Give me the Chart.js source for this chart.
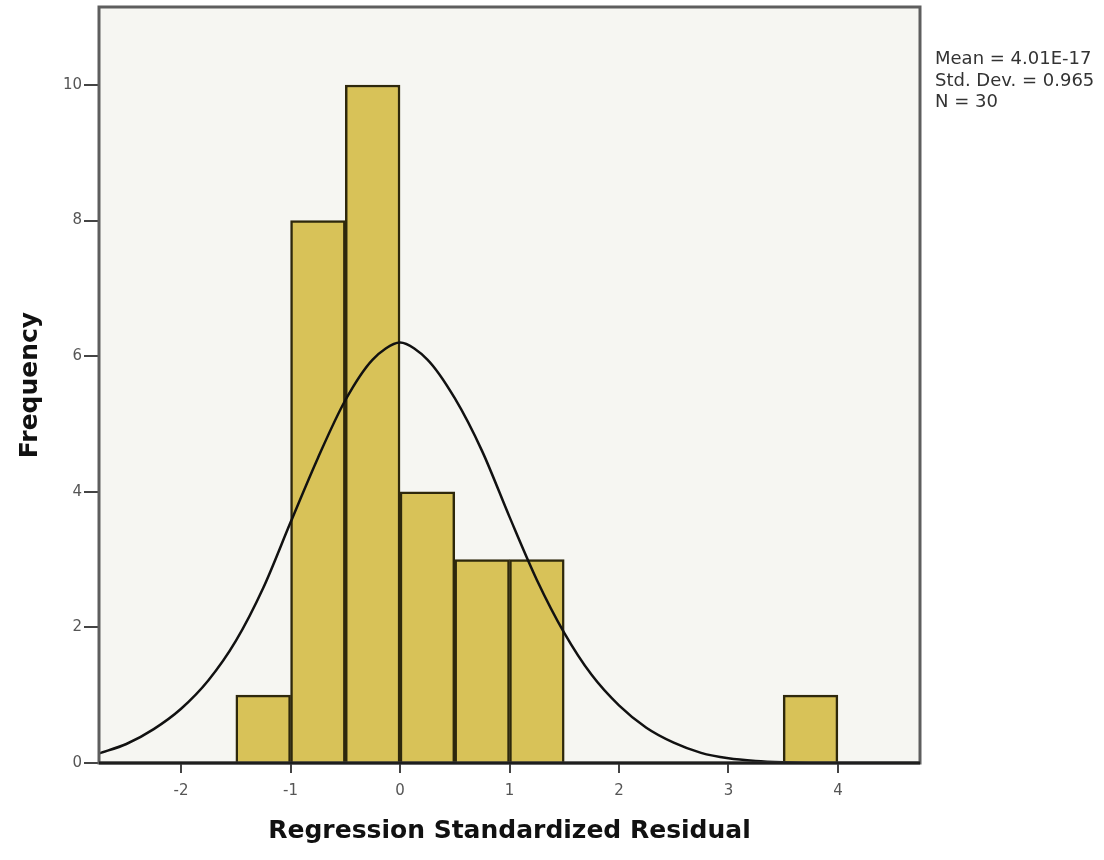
<!DOCTYPE html>
<html>
<head>
<meta charset="utf-8">
<script src="https://cdn.jsdelivr.net/npm/chart.js@4.4.1/dist/chart.umd.min.js"></script>
<style>
  body { margin: 0; background: #fff; }
  #wrap { position: relative; width: 1104px; height: 860px; }
  #stats {
    position: absolute; left: 935px; top: 47px;
    font-family: "DejaVu Sans", sans-serif; font-size: 18px; line-height: 21.5px;
    color: #333; white-space: nowrap;
  }
</style>
</head>
<body>
<div id="wrap">
  <canvas id="histChart"></canvas>
  <div id="stats"></div>
</div>
<script>
// histogram bins (width 0.5), centres and counts
const binCenters = [-1.25, -0.75, -0.25, 0.25, 0.75, 1.25, 3.75];
const frequencies = [1, 8, 10, 4, 3, 3, 1];

// normal curve
const curveX = [-2.75, -2.5, -2.25, -2, -1.75, -1.5, -1.25, -1, -0.75, -0.5, -0.25, 0,
                0.25, 0.5, 0.75, 1, 1.25, 1.5, 1.75, 2, 2.25, 2.5, 2.75, 3, 3.25, 3.5, 3.75, 4.75];
const curveY = [0.14, 0.28, 0.5, 0.8, 1.22, 1.8, 2.58, 3.55, 4.5, 5.35, 5.95, 6.2,
                5.95, 5.38, 4.6, 3.63, 2.7, 1.92, 1.3, 0.85, 0.52, 0.3, 0.15, 0.07, 0.03, 0.01, 0, 0];

const xTicks = [-2, -1, 0, 1, 2, 3, 4];
const yTicks = [0, 2, 4, 6, 8, 10];
const statsLines = ['Mean = 4.01E-17', 'Std. Dev. = 0.965', 'N = 30'];

document.getElementById('stats').innerHTML = statsLines.join('<br>');

const plotFrame = {
    id: 'plotFrame',
    beforeDraw(chart) {
        const {ctx, chartArea: a} = chart;
        ctx.save();
        ctx.fillStyle = '#f6f6f2';
        ctx.fillRect(a.left, a.top, a.right - a.left, a.bottom - a.top);
        ctx.restore();
    },
    afterDatasetsDraw(chart) {
        const {ctx, chartArea: a} = chart;
        ctx.save();
        ctx.strokeStyle = '#5e5e5e';
        ctx.lineWidth = 3;
        ctx.strokeRect(a.left, a.top, a.right - a.left, a.bottom - a.top);
        ctx.strokeStyle = '#1e1e1e';
        ctx.beginPath();
        ctx.moveTo(a.left, a.bottom);
        ctx.lineTo(a.right, a.bottom);
        ctx.stroke();
        ctx.restore();
    }
};

const tickFont = { family: 'DejaVu Sans', size: 15 };
const titleFont = { family: 'DejaVu Sans', size: 25, weight: 'bold', lineHeight: 1.2 };

new Chart(document.getElementById('histChart').getContext('2d'), {
    type: 'bar',
    plugins: [plotFrame],
    data: {
        datasets: [{
            type: 'line',
            label: 'Normal',
            data: curveX.map((x, i) => ({ x: x, y: curveY[i] })),
            borderColor: '#111',
            borderWidth: 2.5,
            pointRadius: 0,
            tension: 0.3,
            order: 0
        }, {
            type: 'bar',
            label: 'Frequency',
            data: binCenters.map((x, i) => ({ x: x, y: frequencies[i] })),
            backgroundColor: '#d8c258',
            borderColor: '#2e280c',
            borderWidth: 2.5,
            barPercentage: 1,
            categoryPercentage: 1,
            order: 1
        }]
    },
    options: {
        responsive: true,
        maintainAspectRatio: false,
        animation: false,
        layout: { padding: { top: 7, right: 184, bottom: 0, left: 0 } },
        plugins: {
            legend: { display: false },
            tooltip: { enabled: false }
        },
        scales: {
            x: {
                type: 'linear',
                min: -2.75,
                max: 4.75,
                offset: false,
                afterBuildTicks: s => { s.ticks = xTicks.map(v => ({ value: v })); },
                afterFit: s => { s.height = 97; },
                ticks: { font: tickFont, color: '#555', padding: 9, autoSkip: false, maxRotation: 0,
                         callback: v => String(v) },
                grid: { drawOnChartArea: false, drawTicks: true, tickLength: 10, color: '#444',
                        lineWidth: 2, offset: false },
                border: { display: false },
                title: { display: true, text: 'Regression Standardized Residual', color: '#111',
                         font: titleFont, padding: { top: 0, bottom: 14 } }
            },
            y: {
                min: 0,
                max: 11.15,
                afterBuildTicks: s => { s.ticks = yTicks.map(v => ({ value: v })); },
                afterFit: s => { s.width = 99; s.paddingTop = 0; s.paddingBottom = 0; },
                ticks: { font: tickFont, color: '#555', padding: 2, callback: v => String(v) },
                grid: { drawOnChartArea: false, drawTicks: true, tickLength: 15, color: '#444',
                        lineWidth: 2 },
                border: { display: false },
                title: { display: true, text: 'Frequency', color: '#111',
                         font: titleFont, padding: { top: 15, bottom: 0 } }
            }
        }
    }
});
</script>
</body>
</html>
